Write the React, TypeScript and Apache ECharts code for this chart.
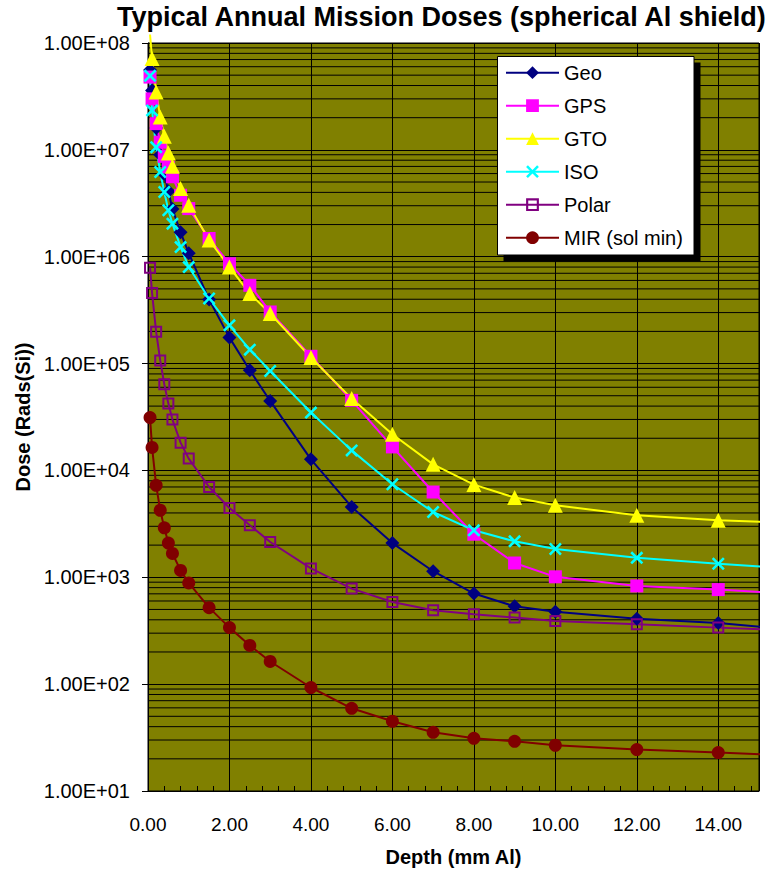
import { useEffect, useRef } from 'react';
import * as echarts from 'echarts';

// Shield depth (mm Al) at which each dose was computed
const depths = [0.05, 0.1, 0.2, 0.3, 0.4, 0.5, 0.6, 0.8, 1.0, 1.5, 2.0, 2.5, 3.0, 4.0, 5.0, 6.0, 7.0, 8.0, 9.0, 10.0, 12.0, 14.0];

// Annual dose, Rads(Si), per orbit
const geoDose = [5.6e7, 3.6e7, 1.6e7, 9.0e6, 5.9e6, 4.1e6, 2.8e6, 1.69e6, 1.08e6, 3.97e5, 1.75e5, 8.65e4, 4.47e4, 1.27e4, 4.55e3, 2.09e3, 1.14e3, 7.04e2, 5.35e2, 4.75e2, 4.1e2, 3.73e2];
const gpsDose = [4.8e7, 3.0e7, 1.76e7, 1.18e7, 8.7e6, 6.9e6, 5.6e6, 3.76e6, 2.82e6, 1.48e6, 8.6e5, 5.4e5, 3.04e5, 1.17e5, 4.53e4, 1.66e4, 6.28e3, 2.53e3, 1.36e3, 1.01e3, 8.3e2, 7.67e2];
const gtoDose = [1.2e8, 7.15e7, 3.48e7, 2.03e7, 1.34e7, 9.35e6, 7.02e6, 4.34e6, 3.03e6, 1.43e6, 8.0e5, 4.52e5, 2.94e5, 1.14e5, 4.7e4, 2.18e4, 1.14e4, 7.37e3, 5.57e3, 4.72e3, 3.8e3, 3.41e3];
const isoDose = [4.93e7, 2.34e7, 1.06e7, 6.2e6, 4.03e6, 2.72e6, 2.04e6, 1.23e6, 8.0e5, 4.06e5, 2.28e5, 1.35e5, 8.53e4, 3.48e4, 1.54e4, 7.42e3, 4.08e3, 2.75e3, 2.17e3, 1.84e3, 1.52e3, 1.34e3];
const polarDose = [7.9e5, 4.57e5, 1.98e5, 1.07e5, 6.4e4, 4.22e4, 2.99e4, 1.82e4, 1.29e4, 7.0e3, 4.45e3, 3.07e3, 2.14e3, 1.21e3, 7.84e2, 5.87e2, 4.91e2, 4.51e2, 4.2e2, 3.9e2, 3.63e2, 3.38e2];
const mirDose = [3.12e4, 1.64e4, 7.26e3, 4.24e3, 2.9e3, 2.09e3, 1.67e3, 1.16e3, 8.85e2, 5.2e2, 3.38e2, 2.3e2, 1.63e2, 93, 59.4, 44.9, 35.4, 31.1, 29.2, 26.8, 24.4, 22.9];

// Where each trace leaves the plot on the right (no marker drawn there)
const traceEndDepth = 15.23;
const traceEndDose = [338, 719, 3290, 1250, 324, 21.9];

const seriesNames = ['Geo', 'GPS', 'GTO', 'ISO', 'Polar', 'MIR (sol min)'];
const seriesColors = ['#000080', '#FF00FF', '#FFFF00', '#00FFFF', '#800080', '#800000'];

const xTickLabels = ['0.00', '2.00', '4.00', '6.00', '8.00', '10.00', '12.00', '14.00'];
const yTickLabels = ['1.00E+01', '1.00E+02', '1.00E+03', '1.00E+04', '1.00E+05', '1.00E+06', '1.00E+07', '1.00E+08'];

const X_MIN = 0;
const X_MAX = 15;
const Y_MIN = 1e1;
const Y_MAX = 1e8;

const FONT = '"Liberation Sans", Arial, Helvetica, sans-serif';

const crossSymbol = 'path://M0,1.4L1.4,0L5,3.6L8.6,0L10,1.4L6.4,5L10,8.6L8.6,10L5,6.4L1.4,10L0,8.6L3.6,5Z';
const hollowSquare = 'path://M0,0H12V12H0ZM2,2V10H10V2Z';

const seriesSymbols = ['diamond', 'rect', 'triangle', crossSymbol, hollowSquare, 'circle'];
const seriesSymbolSizes = [14, 13, 15, 13, 12, 13];

// Log-scale minor gridlines at 2..9 of every decade
const minorGridValues: number[] = [];
for (let e = 1; e < 8; e++) {
  for (let m = 2; m <= 9; m++) minorGridValues.push(m * Math.pow(10, e));
}

function tracePoints(values: number[], endDose: number) {
  const pts: any[] = depths.map((d, i) => {
    const v = values[i];
    return v > Y_MAX ? { value: [d, v], symbol: 'none' } : [d, v];
  });
  pts.push({ value: [traceEndDepth, endDose], symbol: 'none' });
  return pts;
}

export default function App() {
  const ref = useRef<HTMLDivElement>(null);

  useEffect(() => {
    if (!ref.current) return;
    const chart = echarts.init(ref.current, null, { renderer: 'svg' });

    const doseSets = [geoDose, gpsDose, gtoDose, isoDose, polarDose, mirDose];

    const lineSeries = seriesNames.map((name, k) => ({
      name,
      type: 'line',
      data: tracePoints(doseSets[k], traceEndDose[k]),
      clip: false,
      symbol: seriesSymbols[k],
      symbolSize: seriesSymbolSizes[k],
      showAllSymbol: true,
      itemStyle: { color: seriesColors[k] },
      lineStyle: { color: seriesColors[k], width: 2 },
      emphasis: { disabled: true },
      z: 10,
    }));

    const option: any = {
      animation: false,
      backgroundColor: '#ffffff',
      title: {
        text: 'Typical Annual Mission Doses (spherical Al shield)',
        left: 117,
        top: 3,
        padding: 0,
        textStyle: { fontSize: 27, fontWeight: 'bold', color: '#000', fontFamily: FONT },
      },
      grid: {
        left: 148,
        top: 43,
        width: 611,
        height: 748,
        show: true,
        backgroundColor: '#808000',
        borderColor: '#000',
        borderWidth: 1,
        containLabel: false,
      },
      legend: {
        data: seriesNames,
        orient: 'vertical',
        left: 505,
        top: 62.7,
        padding: 0,
        itemWidth: 53,
        itemHeight: 16,
        itemGap: 13,
        selectedMode: false,
        z: 20,
        textStyle: { fontSize: 20, lineHeight: 20, color: '#000', fontFamily: FONT },
      },
      graphic: [
        {
          type: 'rect',
          z: 15,
          silent: true,
          shape: { x: 503.5, y: 62.5, width: 197, height: 199 },
          style: { fill: '#000' },
        },
        {
          type: 'rect',
          z: 16,
          silent: true,
          shape: { x: 497.5, y: 56.5, width: 196.5, height: 198.5 },
          style: { fill: '#fff', stroke: '#000', lineWidth: 1 },
        },
      ],
      xAxis: {
        type: 'value',
        min: X_MIN,
        max: X_MAX,
        interval: 2,
        name: 'Depth (mm Al)',
        nameLocation: 'middle',
        nameGap: 56,
        nameTextStyle: { fontSize: 20, fontWeight: 'bold', color: '#000', fontFamily: FONT },
        axisLine: { show: true, lineStyle: { color: '#000', width: 1 } },
        axisTick: { show: true, inside: true, length: 6, lineStyle: { color: '#000' } },
        minorTick: { show: true, splitNumber: 5, length: 5, lineStyle: { color: '#000' } },
        axisLabel: {
          showMaxLabel: false,
          formatter: (v: number) => xTickLabels[Math.round(v / 2)] ?? '',
          fontSize: 19,
          margin: 24,
          color: '#000',
          fontFamily: FONT,
        },
        splitLine: { show: true, lineStyle: { color: '#000', width: 1 } },
      },
      yAxis: {
        type: 'log',
        logBase: 10,
        min: Y_MIN,
        max: Y_MAX,
        splitNumber: 7,
        name: 'Dose (Rads(Si))',
        nameLocation: 'middle',
        nameGap: 114,
        nameTextStyle: { fontSize: 20, fontWeight: 'bold', color: '#000', fontFamily: FONT },
        axisLine: { show: true, lineStyle: { color: '#000', width: 1 } },
        axisTick: { show: true, length: 6, lineStyle: { color: '#000' } },
        minorTick: { show: false },
        axisLabel: {
          formatter: (v: number) => yTickLabels[Math.round(Math.log10(v)) - 1] ?? '',
          fontSize: 20,
          margin: 18,
          color: '#000',
          fontFamily: FONT,
        },
        splitLine: { show: true, lineStyle: { color: '#000', width: 1 } },
      },
      series: [
        {
          type: 'custom',
          silent: true,
          z: 1,
          data: minorGridValues.map((v) => [X_MIN, v]),
          renderItem: (_params: any, api: any) => {
            const v = api.value(1);
            const a = api.coord([X_MIN, v]);
            const b = api.coord([X_MAX, v]);
            return {
              type: 'line',
              shape: { x1: a[0], y1: a[1], x2: b[0], y2: b[1] },
              style: { stroke: '#000', lineWidth: 1 },
            };
          },
        },
        ...lineSeries,
      ],
    };

    chart.setOption(option);
    return () => chart.dispose();
  }, []);

  return (
    <div
      ref={ref}
      style={{ position: 'fixed', left: 0, top: 0, width: 780, height: 875, background: '#fff' }}
    />
  );
}
